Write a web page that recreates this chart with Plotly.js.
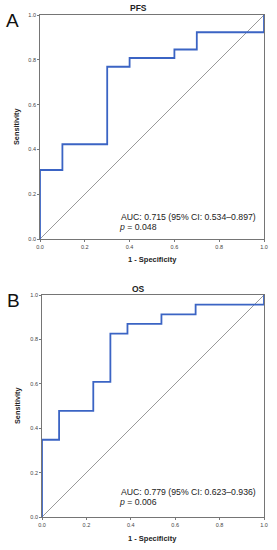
<!DOCTYPE html>
<html>
<head>
<meta charset="utf-8">
<script src="https://cdn.plot.ly/plotly-3.0.1.min.js"></script>
<style>html,body{margin:0;padding:0;background:#fff;}#chart{width:277px;height:550px;}</style>
</head>
<body>
<div id="chart"></div>
<script>
// Panel A (PFS) ROC curve
const pfsFpr = [0, 0, 0.1, 0.1, 0.3, 0.3, 0.4, 0.4, 0.6, 0.6, 0.7, 0.7, 1.0, 1.0];
const pfsTpr = [0, 0.308, 0.308, 0.423, 0.423, 0.769, 0.769, 0.808, 0.808, 0.846, 0.846, 0.923, 0.923, 1.0];
// Panel B (OS) ROC curve
const osFpr = [0, 0, 0.077, 0.077, 0.231, 0.231, 0.308, 0.308, 0.385, 0.385, 0.538, 0.538, 0.692, 0.692, 1.0, 1.0];
const osTpr = [0, 0.348, 0.348, 0.478, 0.478, 0.609, 0.609, 0.826, 0.826, 0.870, 0.870, 0.913, 0.913, 0.957, 0.957, 1.0];
// Reference line
const refX = [0, 1];
const refY = [0, 1];
const tickVals = [0, 0.2, 0.4, 0.6, 0.8, 1.0];
const tickText = ["0.0", "0.2", "0.4", "0.6", "0.8", "1.0"];
const panelTitles = ["PFS", "OS"];
const panelLetters = ["A", "B"];
const aucTexts = ["AUC: 0.715 (95% CI: 0.534\u20130.897)", "AUC: 0.779 (95% CI: 0.623\u20130.936)"];
const pTexts = ["<i>p</i> = 0.048", "<i>p</i> = 0.006"];

const W = 277, H = 550;
const px = v => v / W;
const py = v => 1 - v / H;

const curveColor = '#3b64c4';
const traces = [
  {x: refX, y: refY, xaxis: 'x', yaxis: 'y', mode: 'lines', line: {color: '#808080', width: 0.8}, hoverinfo: 'skip'},
  {x: pfsFpr, y: pfsTpr, xaxis: 'x', yaxis: 'y', mode: 'lines', line: {color: curveColor, width: 1.8}},
  {x: refX, y: refY, xaxis: 'x2', yaxis: 'y2', mode: 'lines', line: {color: '#808080', width: 0.8}, hoverinfo: 'skip'},
  {x: osFpr, y: osTpr, xaxis: 'x2', yaxis: 'y2', mode: 'lines', line: {color: curveColor, width: 1.8}}
];

function ax(domain, anchor) {
  return {
    domain: domain, anchor: anchor, range: [0, 1], fixedrange: true,
    tickmode: 'array', tickvals: tickVals, ticktext: tickText,
    ticks: 'outside', ticklen: 2, tickwidth: 0.8, tickcolor: '#555',
    tickfont: {family: 'Liberation Sans, Arial, sans-serif', size: 5.5, color: '#444'},
    showline: true, mirror: true, linecolor: '#666', linewidth: 0.9,
    showgrid: false, zeroline: false
  };
}

const font = 'Liberation Sans, Arial, sans-serif';
function note(text, x, y, size, extra) {
  return Object.assign({text: text, x: px(x), y: py(y), xref: 'paper', yref: 'paper',
    xanchor: 'center', yanchor: 'middle', showarrow: false,
    font: {family: font, size: size, color: '#222'}}, extra || {});
}
const layout = {
  width: W, height: H,
  margin: {l: 0, r: 0, t: 0, b: 0},
  paper_bgcolor: '#fff', plot_bgcolor: '#fff',
  showlegend: false,
  xaxis: ax([px(40), px(264)], 'y'),
  yaxis: ax([py(239), py(15)], 'x'),
  xaxis2: ax([px(42), px(264)], 'y2'),
  yaxis2: ax([py(517), py(295)], 'x2'),
  annotations: [
    note(panelLetters[0], 12, 20, 19, {font: {family: font, size: 19, color: '#111'}}),
    note(panelLetters[1], 13.5, 300, 19, {font: {family: font, size: 19, color: '#111'}}),
    note('<b>' + panelTitles[0] + '</b>', 138, 8, 8.5),
    note('<b>' + panelTitles[1] + '</b>', 138, 288.5, 8.5),
    note('<b>Sensitivity</b>', 16, 127, 7.3, {textangle: -90}),
    note('<b>Sensitivity</b>', 17, 406, 7.3, {textangle: -90}),
    note('<b>1 - Specificity</b>', 152.5, 260, 7.5),
    note('<b>1 - Specificity</b>', 152.5, 538.5, 7.5),
    note(aucTexts[0], 119, 217, 8.7, {xanchor: 'left'}),
    note(pTexts[0], 116.5, 227, 8.7, {xanchor: 'left'}),
    note(aucTexts[1], 118.5, 492, 8.7, {xanchor: 'left'}),
    note(pTexts[1], 116.5, 501.5, 8.7, {xanchor: 'left'})
  ]
};

Plotly.newPlot('chart', traces, layout, {staticPlot: true, displayModeBar: false});
</script>
</body>
</html>
